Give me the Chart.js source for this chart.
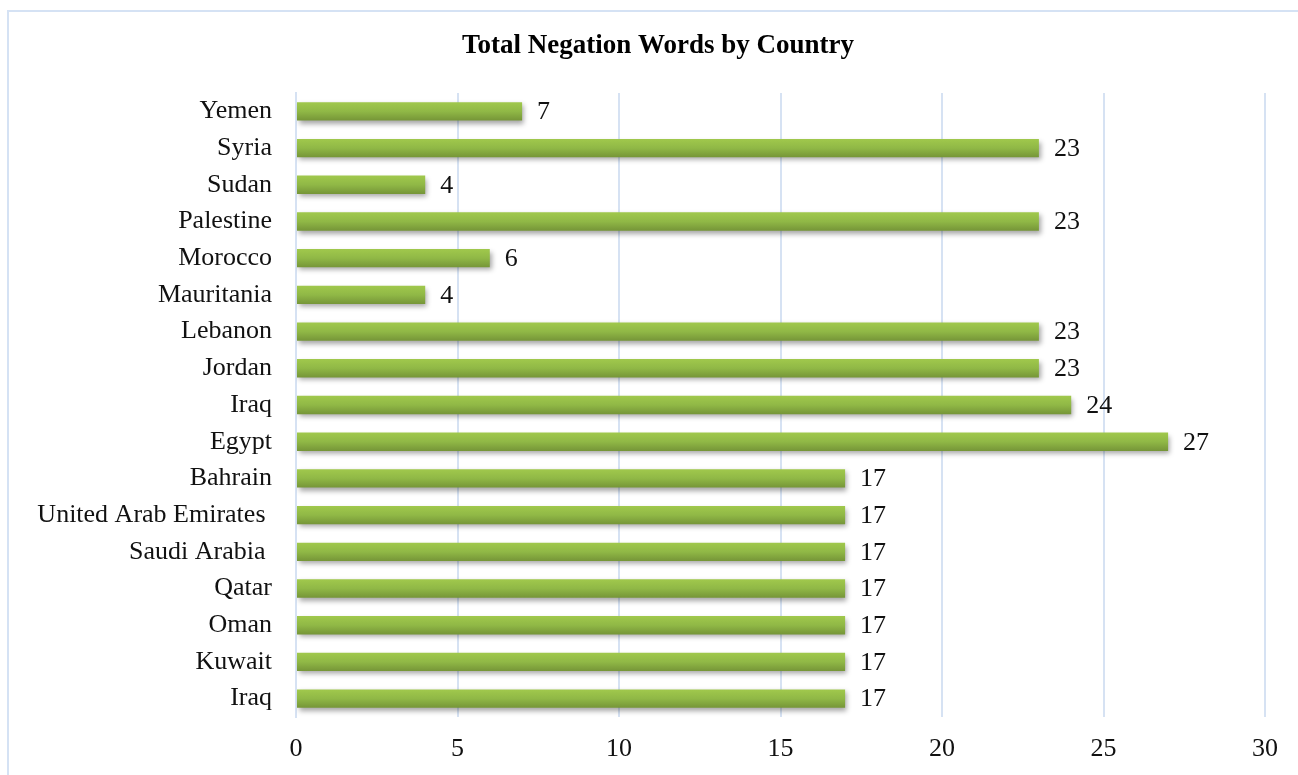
<!DOCTYPE html>
<html lang="en">
<head>
  <meta charset="UTF-8" />
  <title>Total Negation Words by Country</title>
  <script src="https://cdn.jsdelivr.net/npm/chart.js"></script>
  <style>
    html, body {
      margin: 0;
      padding: 0;
      background: #ffffff;
    }
    .wrap {
      width: 1298px;
      height: 775px;
      position: relative;
    }
  </style>
</head>
<body>
  <div class="wrap">
    <canvas id="negChart" width="1298" height="775"></canvas>
  </div>

  <script>
    // data
    const countries = [
      'Yemen', 'Syria', 'Sudan', 'Palestine', 'Morocco', 'Mauritania',
      'Lebanon', 'Jordan', 'Iraq', 'Egypt', 'Bahrain',
      'United Arab Emirates ', 'Saudi Arabia ', 'Qatar', 'Oman', 'Kuwait', 'Iraq'
    ];
    const negationWords = [7, 23, 4, 23, 6, 4, 23, 23, 24, 27, 17, 17, 17, 17, 17, 17, 17];
    const xTicks = [0, 5, 10, 15, 20, 25, 30];
    const chartTitle = 'Total Negation Words by Country';

    const serif = '"Liberation Serif", "Times New Roman", serif';

    // frame around the whole chart + title (centred on the frame, not the canvas)
    const framePlugin = {
      id: 'frame',
      beforeDraw(chart) {
        const ctx = chart.ctx;
        ctx.save();
        ctx.strokeStyle = '#d5e2f4';
        ctx.lineWidth = 2;
        ctx.strokeRect(8, 11, 1300, 780);
        ctx.font = 'bold 27px ' + serif;
        ctx.fillStyle = '#000';
        ctx.textAlign = 'center';
        ctx.textBaseline = 'middle';
        ctx.fillText(chartTitle, 658, 46);
        ctx.restore();
      }
    };

    // soft shadow under the bars
    const shadowPlugin = {
      id: 'barShadow',
      beforeDatasetDraw(chart) {
        const ctx = chart.ctx;
        ctx.save();
        ctx.shadowColor = 'rgba(0,0,0,0.35)';
        ctx.shadowBlur = 5;
        ctx.shadowOffsetX = 2;
        ctx.shadowOffsetY = 3;
      },
      afterDatasetDraw(chart) {
        chart.ctx.restore();
      }
    };

    // value labels at the bar ends
    const valueLabels = {
      id: 'valueLabels',
      afterDatasetsDraw(chart) {
        const ctx = chart.ctx;
        const meta = chart.getDatasetMeta(0);
        ctx.save();
        ctx.font = '26px ' + serif;
        ctx.fillStyle = '#111';
        ctx.textAlign = 'left';
        ctx.textBaseline = 'middle';
        meta.data.forEach((bar, i) => {
          ctx.fillText(String(negationWords[i]), bar.x + 15, bar.y + 1);
        });
        ctx.restore();
      }
    };

    function barFill(context) {
      const chart = context.chart;
      const y = chart.scales && chart.scales.y;
      if (!y || !chart.chartArea) return '#8db543';
      const cy = y.getPixelForValue(context.dataIndex);
      const g = chart.ctx.createLinearGradient(0, cy - 9, 0, cy + 9);
      g.addColorStop(0, '#a0c84c');
      g.addColorStop(0.5, '#90b846');
      g.addColorStop(1, '#769638');
      return g;
    }

    const ctx = document.getElementById('negChart').getContext('2d');
    new Chart(ctx, {
      type: 'bar',
      data: {
        labels: countries,
        datasets: [{
          label: 'Total Negation Words',
          data: negationWords,
          backgroundColor: barFill,
          borderWidth: 0,
          barPercentage: 0.5,
          categoryPercentage: 1
        }]
      },
      options: {
        indexAxis: 'y',
        responsive: false,
        animation: false,
        layout: {
          padding: { left: 0, right: 33, top: 93, bottom: 0 }
        },
        plugins: {
          legend: { display: false },
          tooltip: { enabled: false },
          title: { display: false }
        },
        scales: {
          x: {
            min: 0,
            max: 30,
            afterBuildTicks(scale) {
              scale.ticks = xTicks.map(v => ({ value: v }));
            },
            afterFit(scale) { scale.height = 58; },
            grid: { color: '#d6e2f3', lineWidth: 2, drawTicks: false },
            border: { display: false },
            ticks: {
              color: '#111',
              padding: 17,
              font: { family: serif, size: 26 }
            }
          },
          y: {
            grid: { display: false, drawTicks: false },
            border: { display: true, color: '#d6e2f3', width: 2 },
            afterFit(scale) { scale.width = 296; },
            ticks: {
              color: '#111',
              padding: 24,
              autoSkip: false,
              font: { family: serif, size: 26 }
            }
          }
        }
      },
      plugins: [framePlugin, shadowPlugin, valueLabels]
    });
  </script>
</body>
</html>
